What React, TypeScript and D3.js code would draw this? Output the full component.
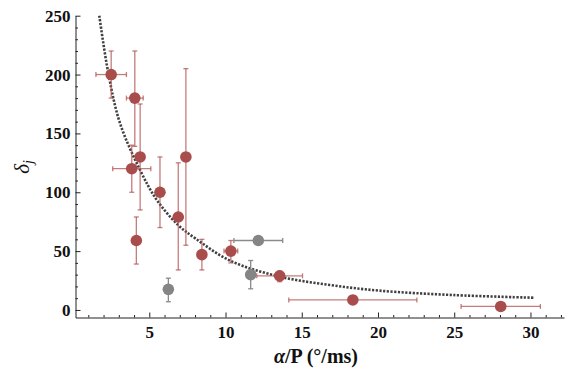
import React, { useEffect, useRef } from "react";
import * as d3 from "d3";

// red measurements
const redX = [2.5, 4.05, 4.4, 3.85, 5.7, 7.4, 6.9, 4.15, 8.45, 10.35, 13.55, 18.35, 28.05];
const redY = [200, 180, 130, 120, 100, 130, 79, 59, 47, 50, 29, 8.5, 3];
const redXErr = [1.0, 0.55, 0, 1.25, 0, 0, 0, 0, 0, 0.45, 1.5, 4.2, 2.6];
const redYLo = [180, 139, 85, 100, 70, 55, 34, 39, 34, 40, 24, null, null];
const redYHi = [220, 220, 175, 140, 130, 205, 125, 79, 60, 59, 33, null, null];

// gray measurements
const grayX = [6.25, 11.65, 12.15];
const grayY = [17.5, 30, 59];
const grayXErr = [0, 0, 1.6];
const grayYLo = [7, 18, 56];
const grayYHi = [27, 42, 62];

// fitted curve
const fitX = [1.72, 2.32, 3.08, 4.39, 5.49, 6.9, 8.0, 10.3, 13.57, 16.85, 20.1, 24.9, 30.2];
const fitY = [250, 200.6, 158.6, 119, 93.5, 72, 61, 41.9, 28.3, 21.2, 16.4, 12.7, 10.4];

const xMajor = [5, 10, 15, 20, 25, 30];
const yMajor = [0, 50, 100, 150, 200, 250];

const W = 577, H = 374;

const App = () => {
    const ref = useRef<SVGSVGElement>(null);

    useEffect(() => {
        if (!ref.current) return;
        const svg = d3.select(ref.current);
        svg.selectAll("*").remove();

        const x = d3.scaleLinear().domain([0.16, 32.2]).range([75.5, 564]);
        const y = d3.scaleLinear().domain([-6.4, 250]).range([317.5, 15.7]);

        const font = "'Liberation Serif', 'Times New Roman', serif";

        // axes
        const xMinor = d3.range(1, 33).filter(v => v % 5 !== 0);
        const yMinor = d3.range(10, 250, 10).filter(v => v % 50 !== 0);

        const gx = svg.append("g").attr("transform", `translate(0, 317.5)`);
        gx.call(d3.axisBottom(x).tickValues(xMajor).tickSizeInner(-5).tickSizeOuter(0).tickPadding(8));
        gx.append("g").call(d3.axisBottom(x).tickValues(xMinor).tickSize(-2.5).tickFormat(() => ""))
            .select(".domain").remove();

        const gy = svg.append("g").attr("transform", `translate(75.5, 0)`);
        gy.call(d3.axisLeft(y).tickValues(yMajor).tickSizeInner(-5).tickSizeOuter(0).tickPadding(5));
        gy.append("g").call(d3.axisLeft(y).tickValues(yMinor).tickSize(-2.5).tickFormat(() => ""))
            .select(".domain").remove();

        [gx, gy].forEach(g => g.attr("font-family", font).attr("font-size", 17).attr("font-weight", "bold"));
        svg.selectAll(".tick text")
            .attr("font-family", font)
            .attr("font-weight", "bold")
            .attr("font-size", 17)
            .attr("fill", "#111");
        svg.selectAll(".domain, .tick line").attr("stroke", "#222").attr("stroke-width", 1);

        // fitted curve
        const line = d3.line<number>()
            .x((d, i) => x(fitX[i]))
            .y(d => y(d))
            .curve(d3.curveCatmullRom);
        svg.append("path")
            .attr("d", line(fitY))
            .attr("fill", "none")
            .attr("stroke", "#404040")
            .attr("stroke-width", 2.6)
            .attr("stroke-dasharray", "2.2,1.5");

        const drawSeries = (xs, ys, xe, lo, hi, barColor, dotColor) => {
            const g = svg.append("g");
            const cap = 2.5;
            xs.forEach((xv, i) => {
                const cx = x(xv), cy = y(ys[i]);
                if (xe[i] > 0) {
                    const x0 = x(xv - xe[i]), x1 = x(xv + xe[i]);
                    g.append("line").attr("x1", x0).attr("x2", x1).attr("y1", cy).attr("y2", cy)
                        .attr("stroke", barColor).attr("stroke-width", 1.3);
                    [x0, x1].forEach(xx => g.append("line").attr("x1", xx).attr("x2", xx)
                        .attr("y1", cy - cap).attr("y2", cy + cap)
                        .attr("stroke", barColor).attr("stroke-width", 1.3));
                }
                if (lo[i] != null) {
                    const y0 = y(lo[i]), y1 = y(hi[i]);
                    g.append("line").attr("x1", cx).attr("x2", cx).attr("y1", y0).attr("y2", y1)
                        .attr("stroke", barColor).attr("stroke-width", 1.3);
                    [y0, y1].forEach(yy => g.append("line").attr("x1", cx - cap).attr("x2", cx + cap)
                        .attr("y1", yy).attr("y2", yy)
                        .attr("stroke", barColor).attr("stroke-width", 1.3));
                }
            });
            g.selectAll("circle.pt").data(xs).join("circle")
                .attr("class", "pt")
                .attr("cx", d => x(d))
                .attr("cy", (d, i) => y(ys[i]))
                .attr("r", 5.8)
                .attr("fill", dotColor);
        };

        drawSeries(grayX, grayY, grayXErr, grayYLo, grayYHi, "#8a8a8a", "#858585");
        drawSeries(redX, redY, redXErr, redYLo, redYHi, "rgba(176,80,80,0.75)", "#a94c4c");

        // labels
        const xl = svg.append("text")
            .attr("x", 316).attr("y", 363)
            .attr("text-anchor", "middle")
            .attr("font-family", font)
            .attr("font-weight", "bold")
            .attr("font-size", 20)
            .attr("fill", "#111");
        xl.append("tspan").attr("font-style", "italic").text("α");
        xl.append("tspan").text("/P (°/ms)");

        const yl = svg.append("text")
            .attr("transform", "translate(29, 167) rotate(-90)")
            .attr("text-anchor", "middle")
            .attr("font-family", font)
            .attr("font-style", "italic")
            .attr("font-size", 21)
            .attr("fill", "#111");
        yl.append("tspan").text("δ");
        yl.append("tspan").attr("font-size", 14).attr("dy", 4).text("j");
    }, []);

    return (
        <svg ref={ref} width={W} height={H}
             style={{ position: "absolute", left: 0, top: 0, background: "#fff" }} />
    );
};

export default App;
